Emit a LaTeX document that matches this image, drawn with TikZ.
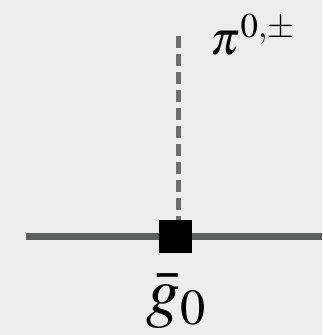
\documentclass[tikz,border=0pt]{standalone}
\usepackage{mathptmx}
\usepackage{tikz}
\usetikzlibrary{positioning}

\definecolor{bgcol}{HTML}{EDEDED}
\definecolor{linecol}{HTML}{5B5F5D}
\definecolor{dashcol}{HTML}{6E6E6E}

\begin{document}
\begin{tikzpicture}[x=1pt,y=1pt,
    nucleon/.style={line width=7pt,draw=linecol},
    pion/.style={line width=5pt,draw=dashcol,dash pattern=on 12pt off 6pt},
    vertexbox/.style={fill=black,minimum size=33pt,inner sep=0pt}]
  \fill[bgcol] (0,0) rectangle (322,335); % background
  \useasboundingbox (0,0) rectangle (322,335);
  \coordinate (nleft) at (26,98);
  \coordinate (nright) at (322,98);
  \coordinate (ptop) at (178,299);
  \draw[nucleon] (nleft) -- (nright);
  \node[vertexbox] (vtx) at (175,98) {};
  \draw[pion] (ptop) -- (vtx.north -| ptop);
  \node[font=\fontsize{47}{50}\selectfont] (plabel) at (253,300) {$\pi^{0,\pm}$};
  \node[font=\fontsize{68}{72}\selectfont] (glabel) at (176,34) {$\bar{g}_0$};
\end{tikzpicture}
\end{document}
